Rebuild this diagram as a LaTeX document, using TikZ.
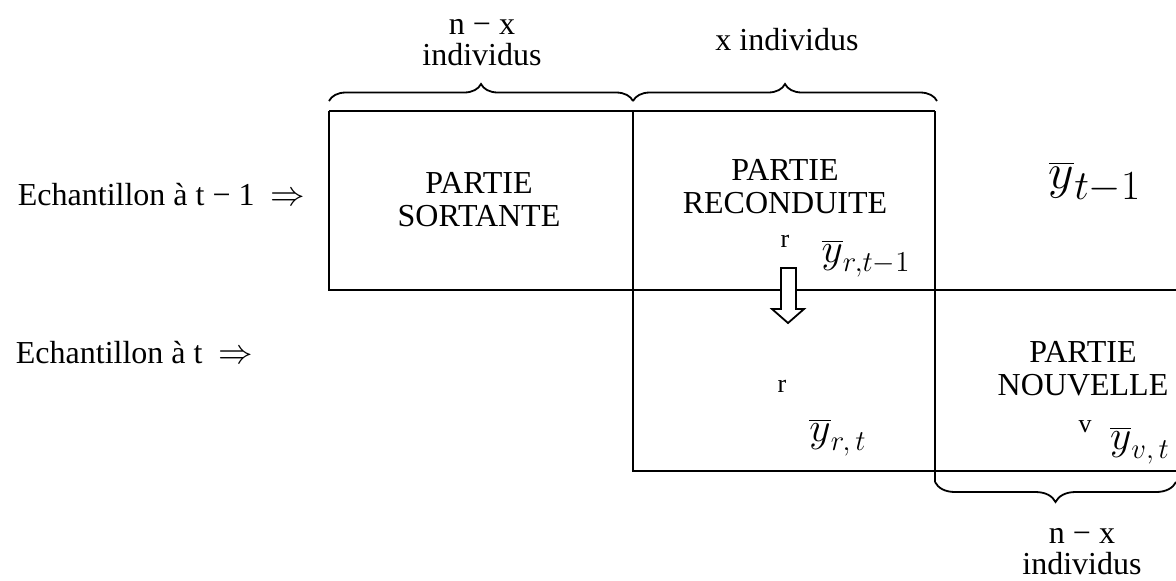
\documentclass[tikz,border=0pt]{standalone}
\usepackage{fontspec}
\setmainfont{Liberation Serif}
\usetikzlibrary{decorations.pathreplacing}
\begin{document}
\begin{tikzpicture}[x=0.5pt,y=-0.5pt, line width=0.9pt,
  lbl/.style={font=\fontsize{16}{16.5}\selectfont, align=center, inner sep=0pt},
  lblw/.style={font=\fontsize{16}{15.5}\selectfont, align=center, inner sep=0pt},
  small/.style={font=\fontsize{13}{14}\selectfont, inner sep=0pt, anchor=base},
  hand/.style={font=\fontsize{22}{24}\selectfont, inner sep=0pt},
  handbig/.style={font=\fontsize{30}{32}\selectfont, inner sep=0pt},
  brc/.style={decorate, decoration={brace, amplitude=8.5pt}},
  brcb/.style={decorate, decoration={brace, amplitude=10pt}}]
\useasboundingbox (0,0) rectangle (1176,580);
% frame corners
\coordinate (A) at (329,111);
\coordinate (B) at (633,111);
\coordinate (C) at (935,111);
\coordinate (D) at (329,290);
\coordinate (E) at (1176,290);
\coordinate (G) at (633,471);
\coordinate (H) at (1176,471);
\coordinate (I) at (935,482);
\draw (A) -- (C);
\draw (A) -- (D) -- (E);
\draw (B) -- (G) -- (H);
\draw (C) -- (I);
% braces
\coordinate (b1s) at (329,101);
\coordinate (b1e) at (633,101);
\coordinate (b2s) at (633,101);
\coordinate (b2e) at (937,101);
\coordinate (b3s) at (1176,482);
\draw[brc] (b1s) -- (b1e);
\draw[brc] (b2s) -- (b2e);
\draw[brcb] (b3s) -- (I);
% hollow arrow
\draw[fill=white] (781,268) -- (796,268) -- (796,309) -- (804,309) -- (788,323) -- (772,309) -- (781,309) -- cycle;
% texts
\node[lbl, anchor=base west] (e1) at (17,205) {Echantillon à t − 1 \ $\Rightarrow$};
\node[lbl, anchor=base west] (e2) at (15,363) {Echantillon à t \ $\Rightarrow$};
\node[lbl] (ps) at (479,200) {PARTIE\\SORTANTE};
\node[lbl] (pr) at (785,187) {PARTIE\\RECONDUITE};
\node[small] (r1) at (785,247) {r};
\node[hand] (y1) at (866,259) {$\overline{y}_{r,t-1}$};
\node[handbig] (y0) at (1095,183) {$\overline{y}_{t-1}$};
\node[small] (r2) at (782,392) {r};
\node[hand] (y2) at (838,438) {$\overline{y}_{r,\,t}$};
\node[lbl] (pn) at (1083,369) {PARTIE\\NOUVELLE};
\node[small] (v) at (1085,432) {v};
\node[hand] (y3) at (1140,446) {$\overline{y}_{v,\,t}$};
\node[lblw] (t1) at (482,43) {n − x\\individus};
\node[lbl, anchor=base] (t2) at (787,50) {x individus};
\node[lblw] (b1) at (1082,552) {n − x\\individus};
\end{tikzpicture}
\end{document}
